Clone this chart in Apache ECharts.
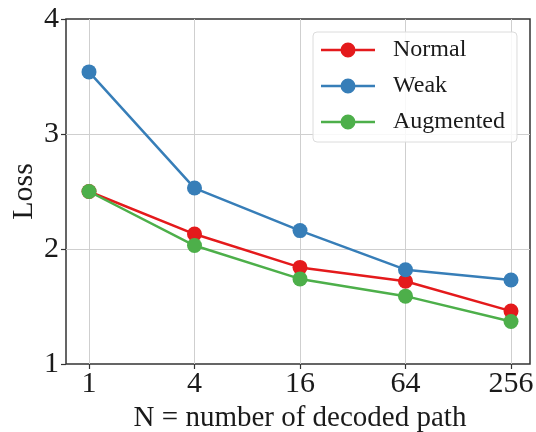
<!DOCTYPE html>
<html><head><meta charset="utf-8">
<script src="https://cdn.jsdelivr.net/npm/echarts@6/dist/echarts.min.js"></script>
<style>html,body{margin:0;padding:0;background:#fff}#c{width:536px;height:432px}</style>
</head><body><div id="c"></div>
<script>
var xTickLabels = ['1', '4', '16', '64', '256'];
var seriesNames = ['Normal', 'Weak', 'Augmented'];
var normalLoss = [2.50, 2.13, 1.84, 1.72, 1.46];
var weakLoss = [3.54, 2.53, 2.16, 1.82, 1.73];
var augmentedLoss = [2.50, 2.03, 1.74, 1.59, 1.37];
var yTicks = [1, 2, 3, 4];

var colors = ['#e41a1c', '#377eb8', '#4daf4a'];
var FONT = '"Liberation Serif", "Times New Roman", serif';
var TXT = '#1a1a1a';
function pts(arr){ return arr.map(function(v,i){ return [i, v]; }); }
var allData = [normalLoss, weakLoss, augmentedLoss];
var legendIcon = 'path://M0,6.2 L54,6.2 L54,8.8 L0,8.8 Z M19.5,7.5 A7.5,7.5 0 1 1 34.5,7.5 A7.5,7.5 0 1 1 19.5,7.5 Z';

var chart = echarts.init(document.getElementById('c'), null, {renderer:'canvas'});
chart.setOption({
  backgroundColor: '#fff',
  animation: false,
  grid: [
    {left: 66, top: 19, width: 464, height: 345, show: true, borderColor: '#333', borderWidth: 1.5, backgroundColor: 'transparent', outerBoundsMode: 'none', containLabel: false},
    {left: 89, top: 19, width: 422, height: 345, show: false, outerBoundsMode: 'none', containLabel: false}
  ],
  xAxis: [
    {gridIndex: 0, type: 'value', min: 0, max: 1, show: false},
    {gridIndex: 1, type: 'value', min: 0, max: xTickLabels.length - 1, interval: 1,
     name: 'N = number of decoded path', nameLocation: 'middle', nameGap: 35,
     nameTextStyle: {fontFamily: FONT, fontSize: 29, color: TXT},
     axisLine: {show: false},
     axisTick: {show: true, inside: false, length: 5, lineStyle: {color: '#333', width: 1.2}},
     axisLabel: {margin: 5, fontFamily: FONT, fontSize: 30, color: TXT,
       formatter: function(v){ return xTickLabels[Math.round(v)] || ''; }},
     splitLine: {show: true, showMinLine: true, showMaxLine: true, lineStyle: {color: '#cfcfcf', width: 1}}}
  ],
  yAxis: [
    {gridIndex: 0, type: 'value', min: yTicks[0], max: yTicks[yTicks.length-1], interval: 1,
     name: 'Loss', nameLocation: 'middle', nameGap: 27, nameRotate: 90, nameMoveOverlap: false,
     nameTextStyle: {fontFamily: FONT, fontSize: 30, color: TXT},
     axisLine: {show: false},
     axisTick: {show: true, inside: false, length: 5, lineStyle: {color: '#333', width: 1.2}},
     axisLabel: {margin: 7, fontFamily: FONT, fontSize: 30, color: TXT},
     splitLine: {show: true, showMinLine: false, showMaxLine: false, lineStyle: {color: '#cfcfcf', width: 1}}},
    {gridIndex: 1, type: 'value', min: yTicks[0], max: yTicks[yTicks.length-1], show: false}
  ],
  legend: {
    left: 313, top: 32, orient: 'vertical',
    itemWidth: 54, itemHeight: 15, itemGap: 12,
    padding: [6, 12, 8, 8],
    backgroundColor: 'rgba(255,255,255,0.85)',
    borderColor: '#dcdcdc', borderWidth: 1, borderRadius: 4,
    textStyle: {fontFamily: FONT, fontSize: 24, color: TXT, padding: [0, 0, 0, 13]},
    data: seriesNames.map(function(n){ return {name: n, icon: legendIcon}; })
  },
  series: seriesNames.map(function(n, k){
    return {
      name: n, type: 'line', xAxisIndex: 1, yAxisIndex: 1,
      data: pts(allData[k]),
      symbol: 'circle', symbolSize: 15,
      lineStyle: {color: colors[k], width: 2.5},
      itemStyle: {color: colors[k]},
      z: 3 + k
    };
  })
});
</script></body></html>
